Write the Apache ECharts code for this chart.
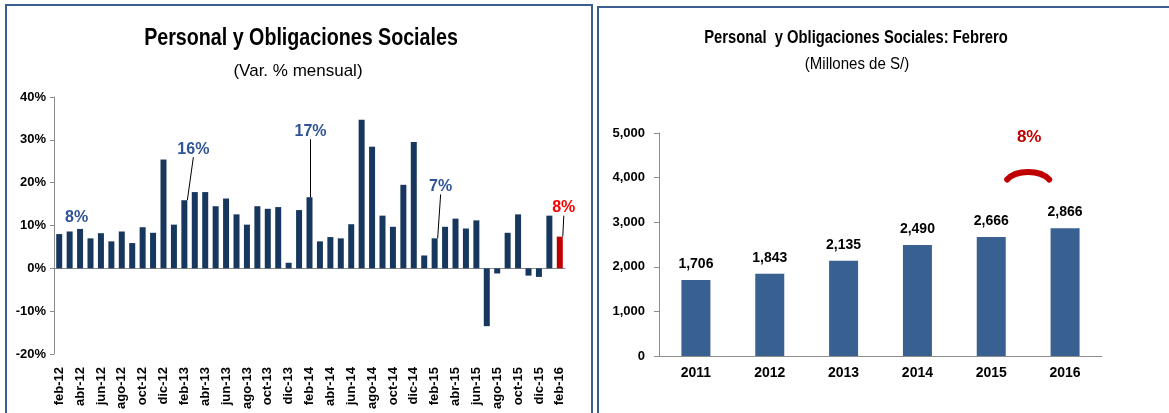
<!DOCTYPE html>
<html>
<head>
<meta charset="utf-8">
<script src="https://cdn.jsdelivr.net/npm/echarts@6/dist/echarts.min.js"></script>
<style>
  html, body { margin: 0; padding: 0; background: #fff; }
  #chart { width: 1169px; height: 413px; }
</style>
</head>
<body>
<div id="chart"></div>
<script>
// meses (feb-12 .. feb-16) y variacion % mensual
var meses = ['feb-12','mar-12','abr-12','may-12','jun-12','jul-12','ago-12','sep-12','oct-12','nov-12','dic-12','ene-13',
             'feb-13','mar-13','abr-13','may-13','jun-13','jul-13','ago-13','sep-13','oct-13','nov-13','dic-13','ene-14',
             'feb-14','mar-14','abr-14','may-14','jun-14','jul-14','ago-14','sep-14','oct-14','nov-14','dic-14','ene-15',
             'feb-15','mar-15','abr-15','may-15','jun-15','jul-15','ago-15','sep-15','oct-15','nov-15','dic-15','ene-16',
             'feb-16'];
var varMensual = [8.0, 8.6, 9.2, 7.0, 8.2, 6.3, 8.6, 5.9, 9.6, 8.3, 25.4, 10.2,
                  15.9, 17.8, 17.8, 14.5, 16.3, 12.6, 10.2, 14.5, 13.9, 14.3, 1.3, 13.6,
                  16.6, 6.3, 7.3, 7.0, 10.3, 34.7, 28.4, 12.3, 9.7, 19.5, 29.5, 3.0,
                  7.0, 9.7, 11.6, 9.3, 11.2, -13.5, -1.2, 8.3, 12.6, -1.7, -2.0, 12.3,
                  7.4];
// etiquetas destacadas: indice, texto
var notasIdx = [1, 12, 24, 36, 48];
var notasTxt = ['8%', '16%', '17%', '7%', '8%'];
var notasDx = [7, 9, 1, 6, 4];
var notasDy = [-1, -38, -53, -39, -16];
var notasLinea = [false, true, true, true, true];

// febrero de cada año, millones de S/
var anios = ['2011', '2012', '2013', '2014', '2015', '2016'];
var montos = [1706, 1843, 2135, 2490, 2666, 2866];
var variacionAnual = '8%';

var azulOscuro = '#17375E', rojo = '#C00000', azulNota = '#2F5496';
var fuente = '"Liberation Sans", Arimo, sans-serif';
var gris = '#8C8C8C';

var barras = varMensual.map(function(v, i){
    var k = notasIdx.indexOf(i);
    var esUltimo = i == varMensual.length - 1;
    var item = {value: v, itemStyle: {color: esUltimo ? rojo : azulOscuro}};
    if(k > -1){
        item.label = {
            show: true, position: 'top', formatter: notasTxt[k],
            color: esUltimo ? '#FF0000' : azulNota,
            fontSize: 16, fontWeight: 'bold', fontFamily: fuente
        };
        item.labelLine = {show: notasLinea[k], lineStyle: {color: '#000', width: 1}};
    }
    return item;
});

function miles(v){
    return String(v).replace(/\B(?=(\d{3})+(?!\d))/g, ',');
}

var chart = echarts.init(document.getElementById('chart'));
var option = {
    animation: false,
    grid: [
        {left: 54, right: 604, top: 97, bottom: 59},
        {left: 659, right: 67, top: 133, bottom: 57}
    ],
    xAxis: [{
        type: 'category', gridIndex: 0, data: meses,
        axisLine: {onZero: true, lineStyle: {color: gris}},
        axisTick: {interval: 1, length: 5, lineStyle: {color: gris}},
        axisLabel: {show: false}
    }, {
        type: 'category', gridIndex: 0, data: meses, position: 'bottom',
        axisLine: {show: false}, axisTick: {show: false},
        axisLabel: {interval: 1, rotate: 90, margin: 13, color: '#000',
                    fontFamily: fuente, fontSize: 13, fontWeight: 'bold'}
    }, {
        type: 'category', gridIndex: 1, data: anios,
        axisLine: {lineStyle: {color: gris}},
        axisTick: {length: 5, lineStyle: {color: gris}},
        axisLabel: {margin: 10, color: '#000', fontFamily: fuente, fontSize: 14, fontWeight: 'bold'}
    }],
    yAxis: [{
        type: 'value', gridIndex: 0, min: -20, max: 40, interval: 10,
        axisLine: {show: true, lineStyle: {color: gris}},
        axisTick: {show: true, length: 4, lineStyle: {color: gris}},
        splitLine: {show: false},
        axisLabel: {formatter: '{value}%', margin: 8, color: '#000',
                    fontFamily: fuente, fontSize: 13, fontWeight: 'bold'}
    }, {
        type: 'value', gridIndex: 1, min: 0, max: 5000, interval: 1000,
        axisLine: {show: true, lineStyle: {color: gris}},
        axisTick: {show: true, length: 5, lineStyle: {color: gris}},
        splitLine: {show: false},
        axisLabel: {formatter: miles, margin: 14, color: '#000',
                    fontFamily: fuente, fontSize: 13, fontWeight: 'bold'}
    }],
    series: [{
        type: 'bar', xAxisIndex: 0, yAxisIndex: 0,
        barWidth: 6, data: barras,
        labelLayout: function(params){
            var k = notasIdx.indexOf(params.dataIndex);
            if(k < 0) return {};
            return {dx: notasDx[k], dy: notasDy[k]};
        }
    }, {
        type: 'bar', xAxisIndex: 2, yAxisIndex: 1,
        barWidth: 29, data: montos,
        itemStyle: {color: '#386192'},
        label: {show: true, position: 'top', distance: 9, formatter: function(p){ return miles(p.value); },
                color: '#000', fontFamily: fuente, fontSize: 14, fontWeight: 'bold'}
    }]
};
chart.setOption(option);

// titulos (texto condensado), marco de los paneles y nota de variacion anual
var a = chart.convertToPixel({xAxisIndex: 2, yAxisIndex: 1}, [anios[4], 4000]);
var b = chart.convertToPixel({xAxisIndex: 2, yAxisIndex: 1}, [anios[5], 4000]);
var t = chart.convertToPixel({xAxisIndex: 2, yAxisIndex: 1}, [anios[5], 4900]);
var mx = (a[0] + b[0]) / 2;
function titulo(txt, x, y, size, peso, escala){
    return {type: 'text', x: x, y: y, scaleX: escala,
            style: {text: txt, align: 'center', verticalAlign: 'middle', fill: '#000',
                    font: peso + ' ' + size + 'px ' + fuente}};
}
chart.setOption({
    graphic: [
        {type: 'rect', shape: {x: 6, y: 5, width: 586, height: 430},
         style: {fill: 'none', stroke: '#3B5E91', lineWidth: 2}},
        {type: 'rect', shape: {x: 598, y: 7, width: 600, height: 430},
         style: {fill: 'none', stroke: '#3B5E91', lineWidth: 2}},
        titulo('Personal y Obligaciones Sociales', 301, 39, 23, 'bold', 0.855),
        titulo('(Var. % mensual)', 298, 71, 17, 'normal', 1),
        titulo('Personal  y Obligaciones Sociales: Febrero', 856, 38, 18, 'bold', 0.82),
        titulo('(Millones de S/)', 857, 65, 16, 'normal', 0.94),
        {type: 'bezierCurve',
         shape: {x1: mx - 21, y1: a[1] + 2, cpx1: mx - 12, cpy1: a[1] - 8,
                 cpx2: mx + 12, cpy2: a[1] - 8, x2: mx + 21, y2: a[1] + 2},
         style: {fill: 'none', stroke: rojo, lineWidth: 6, lineCap: 'round'}},
        {type: 'text', x: mx + 1, y: t[1],
         style: {text: variacionAnual, align: 'center', verticalAlign: 'middle',
                 fill: rojo, font: 'bold 17px ' + fuente}}
    ]
});
</script>
</body>
</html>
